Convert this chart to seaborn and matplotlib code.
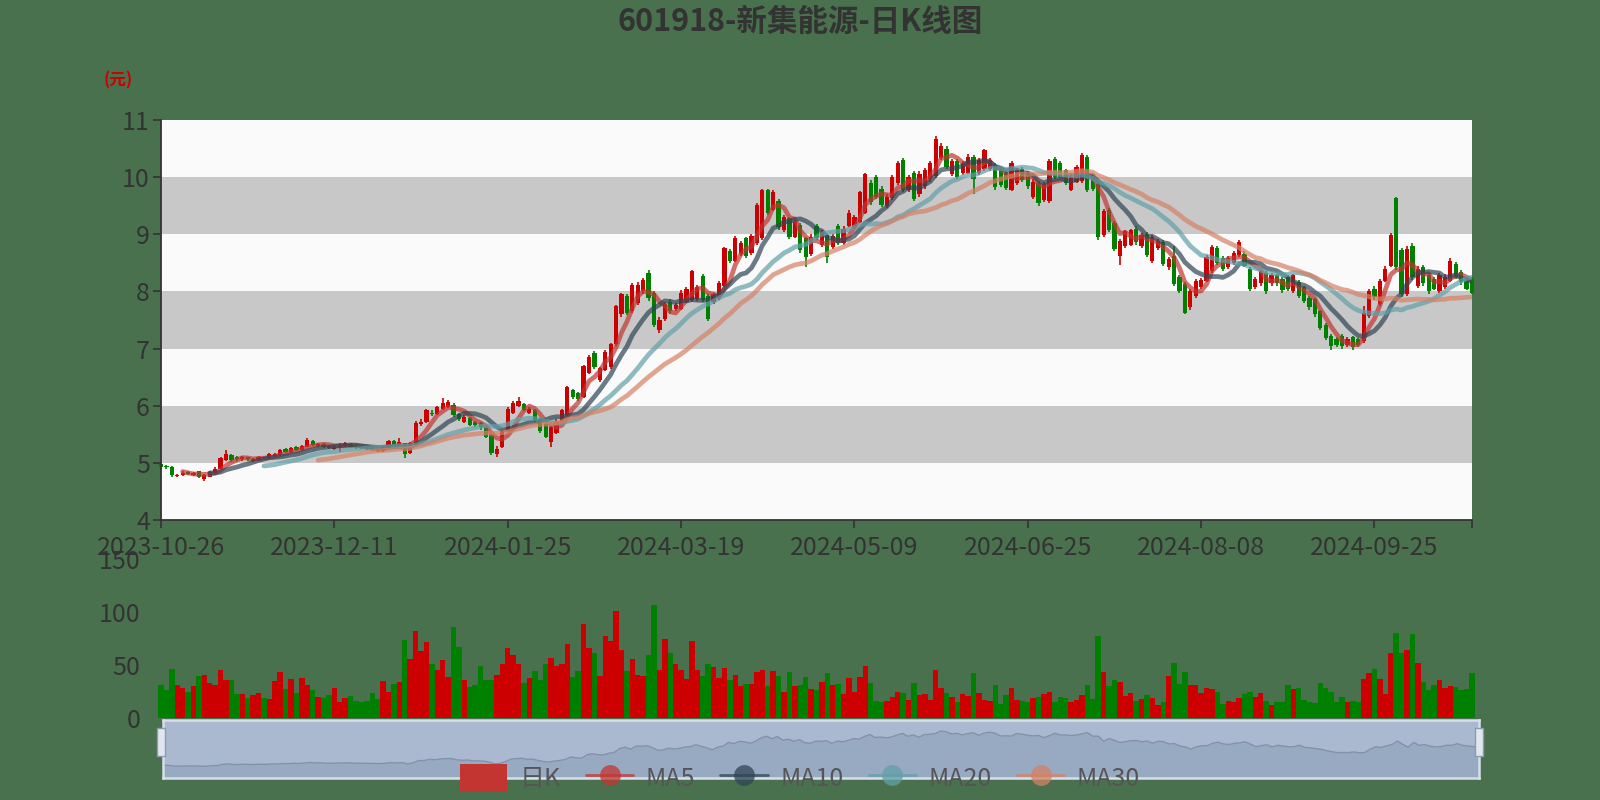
import numpy as np
import pandas as pd
import seaborn as sns
import matplotlib.pyplot as plt
from matplotlib.patches import Patch, Rectangle
from matplotlib.lines import Line2D

# daily K data, 2023-10-26 .. 2024-10-28 (243 trading days)
opens = [4.98, 4.95, 4.93, 4.77, 4.78, 4.84, 4.79, 4.85, 4.72, 4.76,
         4.82, 4.90, 5.05, 5.13, 5.10, 5.06, 5.10, 5.04, 5.05, 5.09,
         5.08, 5.12, 5.13, 5.24, 5.19, 5.28, 5.22, 5.28, 5.38, 5.30,
         5.33, 5.30, 5.24, 5.28, 5.30, 5.33, 5.30, 5.29, 5.27, 5.26,
         5.25, 5.20, 5.26, 5.38, 5.30, 5.34, 5.18, 5.30, 5.68, 5.72,
         5.88, 5.86, 5.95, 5.98, 6.02, 5.86, 5.72, 5.78, 5.72, 5.70,
         5.63, 5.50, 5.15, 5.28, 5.57, 5.88, 6.00, 6.03, 5.88, 5.92,
         5.77, 5.68, 5.36, 5.52, 5.70, 5.84, 6.27, 6.22, 6.15, 6.58,
         6.92, 6.45, 6.62, 6.68, 7.08, 7.60, 7.92, 7.66, 7.80, 8.00,
         8.32, 7.98, 7.32, 7.52, 7.82, 7.70, 7.70, 7.82, 7.85, 7.86,
         8.27, 7.92, 7.82, 7.88, 8.10, 8.70, 8.54, 8.66, 8.94, 8.68,
         8.85, 8.94, 9.78, 9.43, 9.58, 9.08, 9.28, 8.96, 9.17, 8.94,
         8.66, 9.15, 8.81, 8.98, 8.78, 9.15, 8.85, 9.15, 9.12, 9.22,
         9.38, 9.90, 10.00, 9.80, 9.50, 9.64, 9.90, 10.30, 9.78, 10.07,
         9.70, 9.84, 9.96, 10.02, 10.34, 10.50, 10.06, 10.28, 10.07, 10.08,
         10.35, 10.07, 10.14, 10.14, 10.21, 10.12, 10.07, 9.78, 9.90, 10.15,
         10.07, 9.65, 9.90, 9.60, 9.58, 10.32, 10.24, 10.12, 9.78, 9.92,
         9.93, 10.35, 10.00, 9.90, 8.98, 9.42, 9.20, 8.62, 8.80, 8.82,
         9.10, 8.80, 9.00, 8.54, 8.76, 8.86, 8.42, 8.62, 8.25, 8.13,
         7.72, 7.92, 8.08, 8.19, 8.36, 8.76, 8.58, 8.42, 8.50, 8.63,
         8.66, 8.39, 8.08, 8.14, 8.32, 8.14, 8.28, 8.22, 8.26, 8.00,
         8.16, 8.07, 7.89, 7.86, 7.66, 7.42, 7.22, 7.16, 7.22, 7.07,
         7.20, 7.16, 7.13, 7.57, 8.05, 7.78, 8.19, 8.45, 9.63, 8.72,
         7.95, 8.80, 8.10, 8.42, 8.28, 8.22, 8.00, 8.08, 8.19, 8.48,
         8.34, 8.19, 8.22]
closes = [4.92, 4.92, 4.78, 4.79, 4.83, 4.80, 4.83, 4.76, 4.78, 4.84,
          4.90, 5.08, 5.16, 5.05, 5.06, 5.10, 5.06, 5.07, 5.10, 5.08,
          5.15, 5.15, 5.22, 5.19, 5.26, 5.22, 5.30, 5.40, 5.32, 5.33,
          5.28, 5.26, 5.30, 5.32, 5.34, 5.28, 5.27, 5.26, 5.24, 5.22,
          5.21, 5.28, 5.38, 5.32, 5.36, 5.16, 5.35, 5.70, 5.72, 5.92,
          5.85, 5.98, 6.05, 6.06, 5.84, 5.76, 5.81, 5.66, 5.66, 5.62,
          5.46, 5.18, 5.25, 5.56, 5.95, 6.05, 6.09, 5.93, 5.95, 5.73,
          5.55, 5.46, 5.62, 5.74, 5.92, 6.32, 6.16, 6.12, 6.70, 6.85,
          6.68, 6.66, 6.94, 7.08, 7.75, 7.95, 7.62, 8.12, 8.12, 8.20,
          7.88, 7.42, 7.50, 7.78, 7.65, 7.76, 7.98, 8.05, 8.36, 8.08,
          7.85, 7.52, 7.95, 8.14, 8.76, 8.54, 8.94, 8.84, 8.62, 8.97,
          9.52, 9.78, 9.38, 9.74, 9.12, 9.30, 8.95, 9.22, 8.72, 8.60,
          8.96, 8.93, 9.04, 8.60, 8.97, 8.85, 9.10, 9.38, 9.30, 9.74,
          10.06, 9.56, 9.66, 9.52, 9.66, 10.00, 10.24, 9.78, 10.00, 9.62,
          10.06, 10.12, 10.24, 10.66, 10.55, 10.18, 10.28, 10.00, 10.24, 10.35,
          9.96, 10.30, 10.47, 10.30, 9.82, 9.86, 9.81, 10.24, 10.12, 9.95,
          9.84, 9.92, 9.54, 9.88, 10.28, 10.00, 10.01, 9.90, 10.01, 10.18,
          10.38, 9.78, 9.80, 8.95, 9.40, 9.08, 8.75, 8.88, 9.05, 9.07,
          8.86, 8.98, 8.63, 8.95, 8.88, 8.48, 8.56, 8.13, 8.01, 7.63,
          8.01, 8.19, 8.20, 8.60, 8.78, 8.50, 8.40, 8.58, 8.67, 8.86,
          8.45, 8.04, 8.22, 8.35, 8.00, 8.28, 8.14, 8.02, 8.04, 8.28,
          7.92, 7.84, 7.72, 7.60, 7.36, 7.19, 7.04, 7.07, 7.04, 7.16,
          7.02, 7.06, 7.63, 8.01, 7.90, 8.19, 8.39, 8.98, 8.42, 7.95,
          8.75, 8.25, 8.40, 8.14, 8.00, 8.05, 8.28, 8.25, 8.54, 8.25,
          8.16, 8.05, 7.98]
highs = [5.00, 4.97, 4.94, 4.81, 4.85, 4.85, 4.84, 4.86, 4.80, 4.86,
         4.92, 5.10, 5.22, 5.15, 5.12, 5.12, 5.11, 5.09, 5.12, 5.11,
         5.17, 5.17, 5.24, 5.26, 5.28, 5.30, 5.32, 5.43, 5.40, 5.35,
         5.34, 5.31, 5.32, 5.35, 5.36, 5.34, 5.31, 5.30, 5.28, 5.27,
         5.26, 5.30, 5.40, 5.40, 5.43, 5.35, 5.37, 5.73, 5.76, 5.94,
         5.92, 6.00, 6.13, 6.10, 6.04, 5.88, 5.84, 5.80, 5.74, 5.72,
         5.65, 5.52, 5.30, 5.58, 5.97, 6.08, 6.15, 6.05, 5.98, 5.94,
         5.78, 5.70, 5.64, 5.76, 5.94, 6.35, 6.30, 6.24, 6.72, 6.88,
         6.95, 6.68, 6.97, 7.10, 7.77, 7.98, 7.95, 8.15, 8.16, 8.24,
         8.38, 8.00, 7.55, 7.82, 7.86, 7.80, 8.02, 8.08, 8.38, 8.12,
         8.30, 7.95, 7.98, 8.18, 8.78, 8.74, 8.97, 8.88, 8.96, 9.00,
         9.55, 9.80, 9.80, 9.78, 9.62, 9.34, 9.31, 9.25, 9.20, 8.96,
         9.00, 9.18, 9.08, 9.00, 9.00, 9.18, 9.14, 9.42, 9.34, 9.76,
         10.08, 9.95, 10.04, 9.84, 9.70, 10.04, 10.28, 10.33, 10.04, 10.10,
         10.10, 10.16, 10.28, 10.72, 10.60, 10.54, 10.32, 10.32, 10.28, 10.40,
         10.38, 10.34, 10.50, 10.34, 10.25, 10.15, 10.10, 10.28, 10.16, 10.18,
         10.10, 9.96, 9.93, 9.92, 10.32, 10.36, 10.28, 10.15, 10.05, 10.22,
         10.42, 10.38, 10.04, 9.92, 9.44, 9.46, 9.24, 8.92, 9.08, 9.10,
         9.14, 9.02, 9.04, 8.98, 8.92, 8.90, 8.60, 8.80, 8.28, 8.16,
         8.04, 8.22, 8.24, 8.64, 8.82, 8.80, 8.62, 8.62, 8.70, 8.90,
         8.70, 8.42, 8.26, 8.38, 8.35, 8.32, 8.31, 8.25, 8.29, 8.31,
         8.20, 8.10, 7.92, 7.88, 7.68, 7.45, 7.25, 7.20, 7.25, 7.20,
         7.22, 7.18, 7.75, 8.05, 8.10, 8.22, 8.44, 9.02, 9.65, 8.76,
         8.80, 8.84, 8.44, 8.46, 8.32, 8.26, 8.32, 8.30, 8.58, 8.52,
         8.38, 8.24, 8.26]
lows = [4.88, 4.90, 4.76, 4.75, 4.77, 4.78, 4.77, 4.74, 4.68, 4.75,
        4.80, 4.88, 5.03, 5.02, 5.04, 5.04, 5.04, 5.02, 5.04, 5.06,
        5.07, 5.10, 5.12, 5.17, 5.18, 5.20, 5.21, 5.27, 5.30, 5.28,
        5.26, 5.24, 5.22, 5.19, 5.28, 5.26, 5.25, 5.24, 5.22, 5.20,
        5.19, 5.19, 5.25, 5.30, 5.29, 5.08, 5.16, 5.29, 5.64, 5.70,
        5.82, 5.84, 5.93, 5.96, 5.80, 5.73, 5.70, 5.64, 5.62, 5.58,
        5.44, 5.14, 5.10, 5.26, 5.55, 5.86, 5.98, 5.90, 5.86, 5.71,
        5.52, 5.43, 5.28, 5.50, 5.68, 5.82, 6.12, 6.08, 6.13, 6.55,
        6.64, 6.42, 6.60, 6.65, 7.05, 7.56, 7.58, 7.62, 7.76, 7.96,
        7.84, 7.38, 7.28, 7.48, 7.60, 7.66, 7.67, 7.80, 7.82, 7.84,
        7.82, 7.48, 7.78, 7.85, 8.08, 8.50, 8.52, 8.62, 8.58, 8.64,
        8.82, 8.90, 9.34, 9.40, 9.08, 9.04, 8.92, 8.93, 8.68, 8.42,
        8.62, 8.90, 8.78, 8.50, 8.75, 8.82, 8.82, 9.12, 9.10, 9.20,
        9.35, 9.52, 9.62, 9.48, 9.46, 9.60, 9.86, 9.74, 9.74, 9.58,
        9.66, 9.80, 9.92, 9.98, 10.30, 10.14, 10.02, 9.96, 10.04, 10.05,
        9.70, 10.04, 10.10, 10.10, 9.78, 9.82, 9.78, 9.75, 9.86, 9.92,
        9.80, 9.62, 9.50, 9.56, 9.55, 9.96, 9.98, 9.86, 9.75, 9.90,
        9.90, 9.74, 9.76, 8.90, 8.95, 9.04, 8.70, 8.46, 8.76, 8.80,
        8.82, 8.76, 8.60, 8.50, 8.72, 8.44, 8.38, 8.10, 7.98, 7.60,
        7.68, 7.88, 8.05, 8.16, 8.33, 8.46, 8.36, 8.40, 8.47, 8.60,
        8.42, 8.00, 8.05, 8.10, 7.96, 8.10, 8.10, 7.98, 8.00, 7.97,
        7.88, 7.80, 7.68, 7.56, 7.32, 7.15, 6.98, 7.02, 7.00, 7.02,
        6.98, 7.02, 7.10, 7.54, 7.85, 7.75, 8.16, 8.42, 8.38, 7.90,
        7.92, 8.20, 8.06, 8.10, 7.96, 8.02, 7.97, 8.05, 8.16, 8.22,
        8.12, 8.02, 7.95]
volumes = [31, 26, 46, 31, 28, 25, 30, 40, 41, 33,
           31, 45, 36, 36, 23, 23, 19, 22, 24, 19,
           18, 35, 43, 27, 37, 24, 38, 31, 26, 20,
           19, 22, 28, 15, 19, 21, 16, 15, 16, 24,
           18, 35, 25, 32, 34, 74, 56, 82, 63, 72,
           51, 45, 55, 39, 86, 67, 36, 29, 31, 49,
           36, 36, 41, 51, 66, 59, 51, 33, 38, 44,
           36, 51, 57, 49, 51, 70, 39, 44, 89, 66,
           61, 40, 77, 73, 101, 64, 44, 56, 41, 40,
           59, 107, 45, 75, 61, 51, 45, 37, 73, 45,
           40, 51, 48, 38, 47, 36, 41, 30, 32, 32,
           43, 45, 30, 44, 40, 25, 43, 30, 31, 39,
           27, 26, 34, 42, 31, 32, 23, 38, 25, 39,
           49, 33, 16, 15, 16, 20, 25, 24, 17, 33,
           22, 23, 17, 45, 28, 24, 20, 15, 23, 21,
           42, 24, 17, 16, 31, 13, 22, 28, 17, 16,
           15, 19, 20, 23, 25, 15, 20, 19, 15, 17,
           22, 31, 18, 77, 43, 30, 36, 34, 21, 24,
           16, 18, 22, 19, 12, 15, 40, 52, 32, 43,
           31, 31, 24, 28, 27, 25, 13, 16, 15, 19,
           23, 25, 20, 24, 16, 12, 15, 15, 31, 27,
           28, 17, 15, 14, 33, 28, 25, 15, 20, 15,
           16, 15, 37, 42, 46, 37, 23, 61, 80, 61,
           64, 79, 52, 34, 26, 31, 36, 28, 30, 29,
           26, 27, 42]
tick_labels = ['2023-10-26', '2023-12-11', '2024-01-25', '2024-03-19',
               '2024-05-09', '2024-06-25', '2024-08-08', '2024-09-25']
ma_windows = [5, 10, 20, 30]
legend_names = ['日K', 'MA5', 'MA10', 'MA20', 'MA30']

BG = '#4a714e'
UP, DOWN = '#cc0000', '#008000'
ma_colors = ['#c23531', '#2f4554', '#61a0a8', '#d48265']
TXT = '#333333'

df = pd.DataFrame({'open': opens, 'close': closes, 'high': highs,
                   'low': lows, 'volume': volumes})
df['idx'] = np.arange(len(df))
df['dir'] = np.where(df['close'] >= df['open'], 'up', 'down')
for w in ma_windows:
    df[f'ma{w}'] = df['close'].rolling(w).mean()
n = len(df)

sns.set_theme(style='white')
plt.rcParams['font.family'] = ['Noto Sans CJK SC', 'DejaVu Sans']

fig = plt.figure(figsize=(16, 8), dpi=100, facecolor=BG)
W, H = 1600, 800
L, R = 161, 1472

# ---- price panel
ax = fig.add_axes([L / W, 1 - 520 / H, (R - L) / W, 400 / H])
ax.set_facecolor('#fafafa')
for k in range(4, 11):
    ax.axhspan(k, k + 1, color='#c8c8c8' if k % 2 == 1 else '#fafafa', lw=0, zorder=0)

cols = df['dir'].map({'up': UP, 'down': DOWN})
ax.vlines(df['idx'], df['low'], df['high'], colors=cols, lw=1.2, zorder=2, clip_on=False)
body_lo = df[['open', 'close']].min(axis=1)
body_h = (df['close'] - df['open']).abs().clip(lower=0.015)
ax.bar(df['idx'], body_h, bottom=body_lo, width=0.78, color=cols, lw=0, zorder=2, clip_on=False)

for w, c in zip(ma_windows, ma_colors):
    sns.lineplot(x=df['idx'], y=df[f'ma{w}'], ax=ax, color=c, lw=3.4, alpha=0.7, zorder=3)

ax.set_xlim(0, n - 1)
ax.set_ylim(4, 11)
ax.set_yticks(range(4, 12))
ax.set_xticks(list(range(0, 32 * len(tick_labels), 32)) + [n - 1])
ax.set_xticklabels(tick_labels + [''])
ax.set_xlabel('')
ax.set_ylabel('')
for s in ['top', 'right']:
    ax.spines[s].set_visible(False)
for s in ['left', 'bottom']:
    ax.spines[s].set_color(TXT)
    ax.spines[s].set_linewidth(1.3)
ax.tick_params(axis='both', which='both', direction='out', length=6, width=1.2,
               color=TXT, labelcolor=TXT, labelsize=18, pad=2)
ax.tick_params(axis='x', bottom=True, pad=5)
ax.tick_params(axis='y', left=True)
ax.grid(False)

# ---- volume panel
axv = fig.add_axes([L / W, 1 - 718 / H, (R - L) / W, 159 / H])
axv.set_facecolor('none')
sns.barplot(data=df, x='idx', y='volume', hue='dir', palette={'up': UP, 'down': DOWN},
            native_scale=True, width=1.0, dodge=False, legend=False, saturation=1,
            linewidth=0, ax=axv)
for p in axv.patches:
    p.set_clip_on(False)
axv.set_xlim(0, n - 1)
axv.set_ylim(0, 150)
axv.set_yticks([0, 50, 100, 150])
axv.set_xticks([])
axv.set_xlabel('')
axv.set_ylabel('')
for s in axv.spines.values():
    s.set_visible(False)
axv.tick_params(axis='y', left=False, labelcolor=TXT, labelsize=18, pad=9)
axv.grid(False)

# ---- data zoom slider
axs = fig.add_axes([163 / W, 1 - 778 / H, (1479 - 163) / W, 58 / H])
axs.set_facecolor('#aab9d0')
axs.fill_between(df['idx'], df['close'], 0, color='#98a9c2', lw=0)
sns.lineplot(x=df['idx'], y=df['close'], ax=axs, color='#8292aa', lw=1.0)
axs.set_xlim(0, n - 1)
axs.set_ylim(2.8, 12.5)
axs.set_xticks([])
axs.set_yticks([])
axs.set_xlabel('')
axs.set_ylabel('')
for s in axs.spines.values():
    s.set_color('#d6dfea')
    s.set_linewidth(1.8)
for hx in (157, 1475):
    fig.patches.append(Rectangle((hx / W, 1 - 756 / H), 8 / W, 28 / H,
                                 transform=fig.transFigure, fc='#dfe6ef', ec='#8d9bb0',
                                 lw=1, zorder=5))

# ---- texts
fig.text(0.5, 1 - 22 / H, '601918-新集能源-日K线图', ha='center', va='center',
         fontsize=22, fontweight='bold', color=TXT)
fig.text(118 / W, 1 - 80 / H, '(元)', ha='center', va='center', fontsize=12,
         fontweight='bold', color='#cc0000')

handles = [Patch(facecolor='#c23531', edgecolor='none')]
for c in ma_colors:
    handles.append(Line2D([0], [0], color=c, lw=2, marker='o', markersize=15,
                          alpha=0.75, markeredgewidth=0))
leg = fig.legend(handles, legend_names, loc='center', bbox_to_anchor=(0.5, 1 - 778 / H),
                 ncol=5, frameon=False, fontsize=18, labelcolor='#555555',
                 handlelength=1.9, handleheight=1.4, columnspacing=1.0, handletextpad=0.5)
leg.set_zorder(10)

fig.savefig('out.png', dpi=100, facecolor=BG)
